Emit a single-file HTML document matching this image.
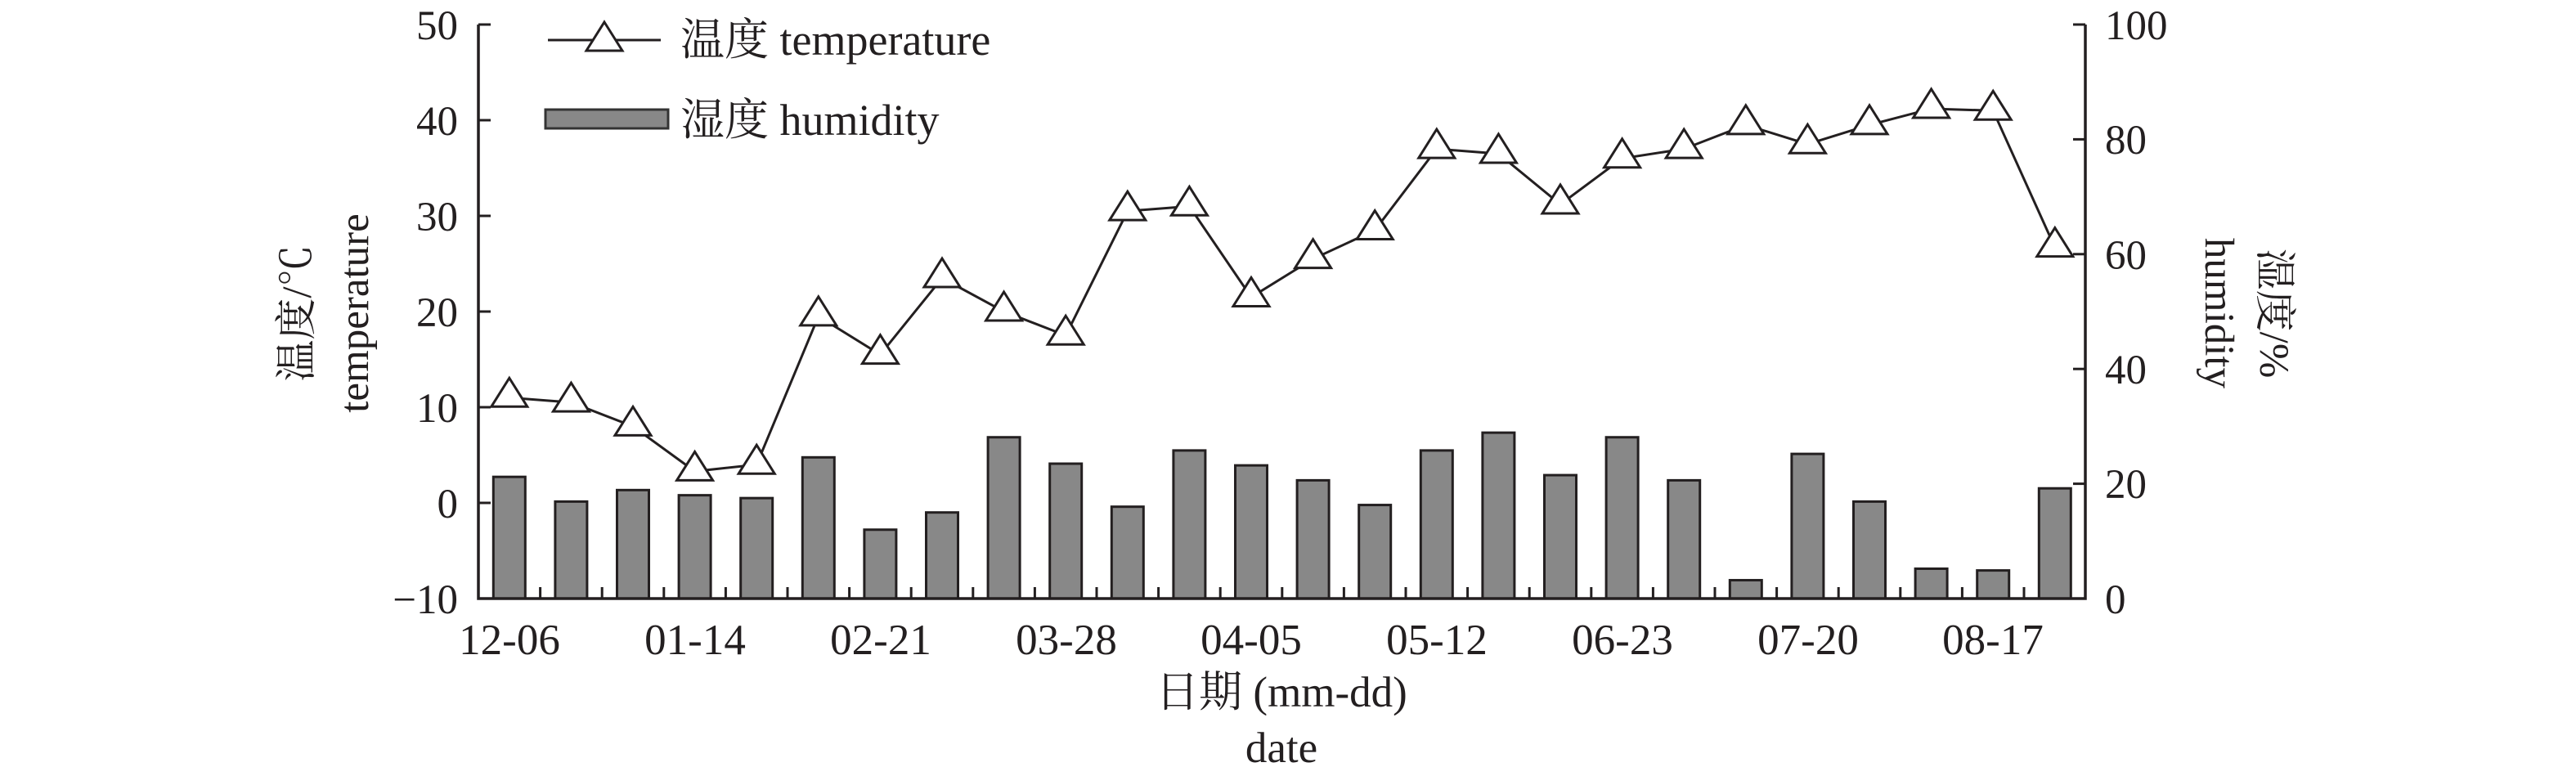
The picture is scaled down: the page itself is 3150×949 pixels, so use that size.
<!DOCTYPE html>
<html><head><meta charset="utf-8"><style>
html,body{margin:0;padding:0;background:#fff;}
svg{display:block;}
text{font-family:"Liberation Serif","Noto Serif CJK SC",serif;fill:#231f20;}
</style></head><body>
<svg id="s" width="3150" height="949" viewBox="0 0 3150 949" xmlns="http://www.w3.org/2000/svg">
<g id="bars"></g>
<g id="ticks" stroke="#231f20" stroke-width="3"></g>
<path d="M585 30 V732 H2550 V30" fill="none" stroke="#231f20" stroke-width="3.5"/>
<g id="line"></g>
<g font-size="51" text-anchor="end">
<text x="560" y="48">50</text><text x="560" y="165">40</text><text x="560" y="282">30</text>
<text x="560" y="399">20</text><text x="560" y="516">10</text><text x="560" y="633">0</text>
<text x="560" y="750">−10</text>
</g>
<g font-size="51" text-anchor="start">
<text x="2574" y="48">100</text><text x="2574" y="188">80</text><text x="2574" y="329">60</text>
<text x="2574" y="469">40</text><text x="2574" y="609">20</text><text x="2574" y="750">0</text>
</g>
<g font-size="53" text-anchor="middle">
<text x="623" y="800">12-06</text><text x="850" y="800">01-14</text><text x="1077" y="800">02-21</text>
<text x="1304" y="800">03-28</text><text x="1530" y="800">04-05</text><text x="1757" y="800">05-12</text>
<text x="1984" y="800">06-23</text><text x="2211" y="800">07-20</text><text x="2437" y="800">08-17</text>
<text x="1567" y="864">日期 (mm-dd)</text>
<text x="1567" y="932">date</text>
</g>
<g font-size="51" text-anchor="middle">
<text transform="translate(380,383) rotate(-90)">温度/℃</text>
<text transform="translate(450,383) rotate(-90)">temperature</text>
<text transform="translate(2697,383) rotate(90)">humidity</text>
<text transform="translate(2764,383) rotate(90)">湿度/%</text>
</g>
<g font-size="54">
<line x1="670" y1="49" x2="808" y2="49" stroke="#231f20" stroke-width="3"/>
<polygon points="739,27 761,62 717,62" fill="#fff" stroke="#231f20" stroke-width="3"/>
<text x="832" y="67">温度 temperature</text>
<rect x="667" y="134" width="150" height="23" fill="#888" stroke="#333" stroke-width="3"/>
<text x="832" y="165">湿度 humidity</text>
</g>
</svg>
<script>
var T=[11,10.5,8,3.3,4,19.5,15.5,23.5,20,17.5,30.5,31,21.5,25.5,28.5,37,36.5,31.2,36,37,39.5,37.5,39.5,41.2,41,26.7];
var H=[21.2,16.9,18.9,18,17.5,24.6,12,15,28.1,23.5,16,25.8,23.2,20.6,16.3,25.8,28.9,21.5,28.1,20.6,3.2,25.2,16.9,5.2,4.9,19.2];
var w=75.6,b="",tk="",pts=[],tr="";
for(var i=0;i<26;i++){var cx=585+w*(i+0.5);var y=732-H[i]*7.02;
b+='<rect x="'+(cx-19.5)+'" y="'+y+'" width="39" height="'+(732-y)+'" fill="#888" stroke="#231f20" stroke-width="3"/>';
if(i>0)tk+='<line x1="'+(585+w*i)+'" y1="732" x2="'+(585+w*i)+'" y2="718"/>';
var ty=615-T[i]*11.7;pts.push(cx+","+ty);
tr+='<polygon points="'+cx+','+(ty-24)+' '+(cx+22)+','+(ty+11)+' '+(cx-22)+','+(ty+11)+'" fill="#fff" stroke="#231f20" stroke-width="3"/>';}
for(var k=0;k<7;k++){var yy=30+k*117;tk+='<line x1="585" y1="'+yy+'" x2="600" y2="'+yy+'"/>';}
for(var k=0;k<6;k++){var yy=30+k*140.4;tk+='<line x1="2550" y1="'+yy+'" x2="2535" y2="'+yy+'"/>';}
document.getElementById("bars").innerHTML=b;
document.getElementById("ticks").innerHTML=tk;
document.getElementById("line").innerHTML='<polyline points="'+pts.join(" ")+'" fill="none" stroke="#231f20" stroke-width="3"/>'+tr;
</script>
</body></html>
